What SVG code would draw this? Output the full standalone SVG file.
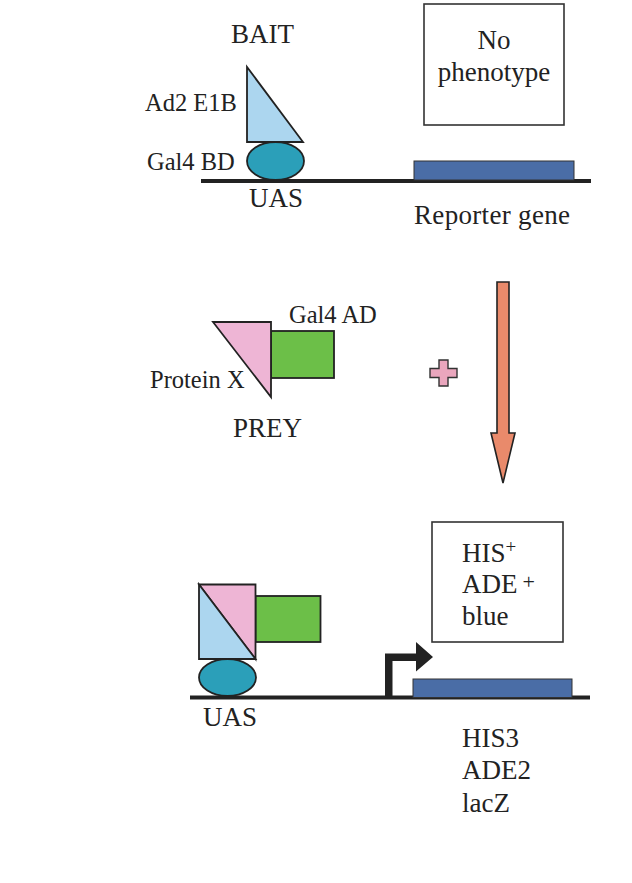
<svg xmlns="http://www.w3.org/2000/svg" width="632" height="883" viewBox="0 0 632 883">
<style>
text{font-family:"Liberation Serif","Times New Roman",serif;fill:#222;}
.big{font-size:27px;}
.lab{font-size:24.5px;}
.ln{stroke:#222;stroke-width:4;fill:none;}
.box{fill:#fff;stroke:#333;stroke-width:1.6;}
.ol{stroke:#222;stroke-width:1.8;stroke-linejoin:miter;}
.blue{fill:#acd6ef;}
.teal{fill:#2b9fb9;}
.pink{fill:#eeb5d5;}
.green{fill:#6cbf48;}
.rep{fill:#4a6da6;stroke:#333;stroke-width:1;}
</style>
<rect width="632" height="883" fill="#fff"/>

<g id="connectors">
  <line class="ln" x1="201" y1="181" x2="591" y2="181"/>
  <line class="ln" x1="190" y1="697.5" x2="590" y2="697.5"/>
  <polygon id="big-arrow" points="497,282 509,282 509,433 515,433 503,483 491,433 497,433" fill="#e98a6b" stroke="#222" stroke-width="1.6"/>
  <polygon id="promoter" points="385,697 385,653.5 416,653.5 416,642 433,657 416,671.5 416,661 392.5,661 392.5,697" fill="#222"/>
</g>

<g id="bait">
  <text class="big" x="231" y="43">BAIT</text>
  <polygon class="blue ol" points="247,67 247,142 303,142"/>
  <ellipse class="teal ol" cx="275.5" cy="161" rx="28.5" ry="19"/>
  <text class="lab" x="145" y="111">Ad2 E1B</text>
  <text class="lab" x="147" y="170">Gal4 BD</text>
  <text class="big" x="249" y="207">UAS</text>
</g>

<g id="no-phenotype">
  <rect class="box" x="424" y="4" width="140" height="121"/>
  <text class="big" x="494" y="49" text-anchor="middle">No</text>
  <text class="big" x="494" y="81" text-anchor="middle">phenotype</text>
</g>

<g id="reporter-top">
  <rect class="rep" x="414" y="161" width="160" height="19"/>
  <text class="big" x="414" y="224" textLength="156">Reporter gene</text>
</g>

<g id="prey">
  <rect class="green ol" x="271" y="331" width="63" height="47"/>
  <polygon class="pink ol" points="213,322 271,322 271,397"/>
  <text class="lab" x="289" y="323">Gal4 AD</text>
  <text class="lab" x="150" y="388">Protein X</text>
  <text class="big" x="233" y="437">PREY</text>
</g>

<g id="plus">
  <polygon points="439,360 448,360 448,368.5 457,368.5 457,377.5 448,377.5 448,386 439,386 439,377.5 430,377.5 430,368.5 439,368.5" fill="#eaa6bd" stroke="#333" stroke-width="1.4"/>
</g>

<g id="complex">
  <rect class="green ol" x="255.5" y="596" width="65" height="46"/>
  <polygon class="pink ol" points="199,584.5 255.5,584.5 255.5,659"/>
  <polygon class="blue ol" points="199,584.5 255.5,659 199,659"/>
  <ellipse class="teal ol" cx="227.5" cy="677.5" rx="28.5" ry="18.5"/>
  <text class="big" x="203" y="726">UAS</text>
</g>

<g id="phenotype-box">
  <rect class="box" x="432" y="522" width="131" height="120"/>
  <text class="big" x="462" y="562">HIS<tspan font-size="19" dy="-9">+</tspan></text>
  <text class="big" x="462" y="593">ADE<tspan font-size="22" dx="5" dy="-4">+</tspan></text>
  <text class="big" x="462" y="625">blue</text>
</g>

<g id="reporter-bottom">
  <rect class="rep" x="413" y="679" width="159" height="18.5"/>
  <text class="big" x="462" y="747">HIS3</text>
  <text class="big" x="462" y="779">ADE2</text>
  <text class="big" x="462" y="812">lacZ</text>
</g>
</svg>
